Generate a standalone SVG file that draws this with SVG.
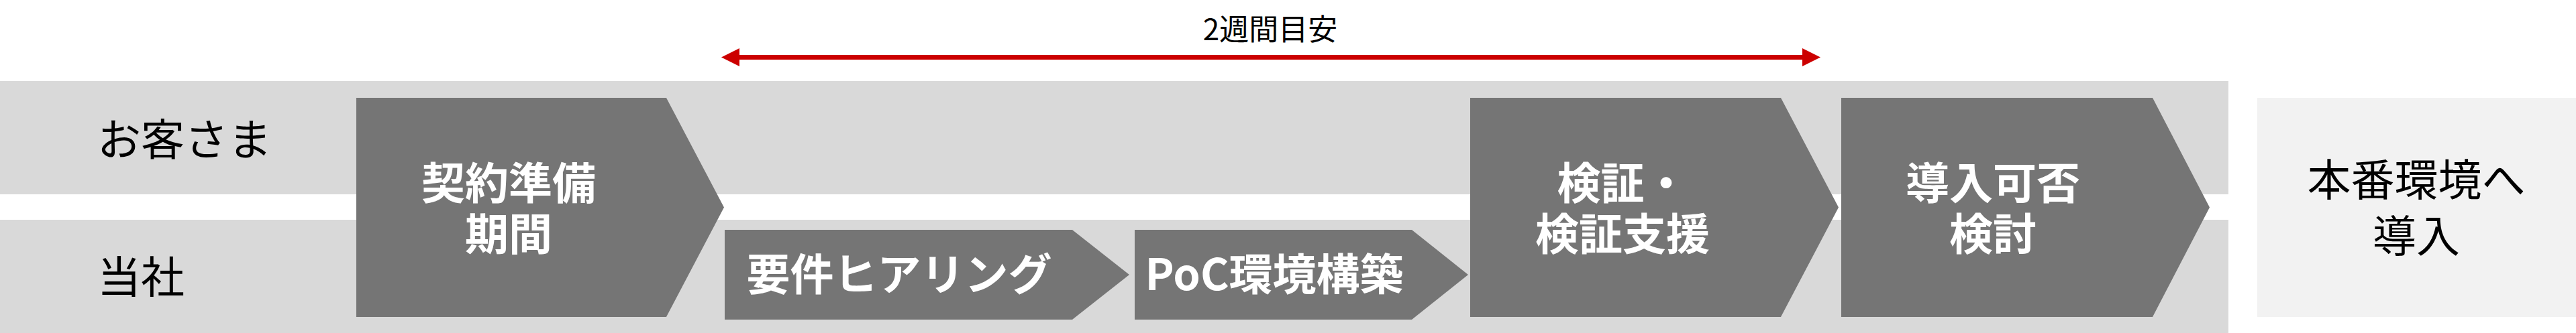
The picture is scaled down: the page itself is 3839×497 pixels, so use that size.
<svg xmlns="http://www.w3.org/2000/svg" width="3839" height="497" viewBox="0 0 3839 497">
<style>
.band{fill:#d9d9d9}
.chev{fill:#757575}
.final{fill:#f2f2f2}
.lbl{font-family:"Noto Sans CJK JP","Noto Sans",sans-serif;font-size:65px;fill:#000}
.wt{font-family:"Noto Sans CJK JP","Noto Sans",sans-serif;font-size:65px;font-weight:bold;fill:#fff;text-anchor:middle}
.dur{font-family:"Noto Sans CJK JP","Noto Sans",sans-serif;font-size:44px;fill:#000;text-anchor:middle}
.conn{stroke:#cc0000;stroke-width:7;fill:none}
</style>
<defs>
<marker id="arr" viewBox="0 0 27 27" markerWidth="27" markerHeight="27" refX="0" refY="13.5" orient="auto-start-reverse" markerUnits="userSpaceOnUse">
<path d="M0,0 L27,13.5 L0,27 Z" fill="#cc0000"/>
</marker>
</defs>
<g id="lanes">
<rect class="band" x="0" y="121" width="3321" height="169"/>
<rect class="band" x="0" y="328" width="3321" height="169"/>
<text class="lbl" x="145" y="232">お客さま</text>
<text class="lbl" x="145" y="437">当社</text>
</g>
<g id="connectors">
<line class="conn" x1="1102" y1="85.5" x2="2686" y2="85.5" marker-start="url(#arr)" marker-end="url(#arr)"/>
<text class="dur" x="1893" y="60">2週間目安</text>
</g>
<g id="node-keiyaku">
<polygon class="chev" points="531,146 993,146 1079,309.5 993,473 531,473"/>
<text class="wt" x="758" y="297">契約準備<tspan x="758" dy="76">期間</tspan></text>
</g>
<g id="node-hearing">
<polygon class="chev" points="1080,343 1598,343 1683,410 1598,477 1080,477"/>
<text class="wt" x="1340" y="433">要件ヒアリング</text>
</g>
<g id="node-poc">
<polygon class="chev" points="1691,343 2104,343 2188,410 2104,477 1691,477"/>
<text class="wt" x="1899" y="433">PoC環境構築</text>
</g>
<g id="node-kensho">
<polygon class="chev" points="2191,146 2654,146 2740,309.5 2654,473 2191,473"/>
<text class="wt" x="2418" y="297">検証・<tspan x="2418" dy="76">検証支援</tspan></text>
</g>
<g id="node-donyu">
<polygon class="chev" points="2744,146 3208,146 3293,309.5 3208,473 2744,473"/>
<text class="wt" x="2970" y="297">導入可否<tspan x="2970" dy="76">検討</tspan></text>
</g>
<g id="node-honban">
<rect class="final" x="3364" y="146" width="475" height="327"/>
<text class="lbl" x="3601" y="292" text-anchor="middle">本番環境へ<tspan x="3601" dy="84">導入</tspan></text>
</g>
</svg>
